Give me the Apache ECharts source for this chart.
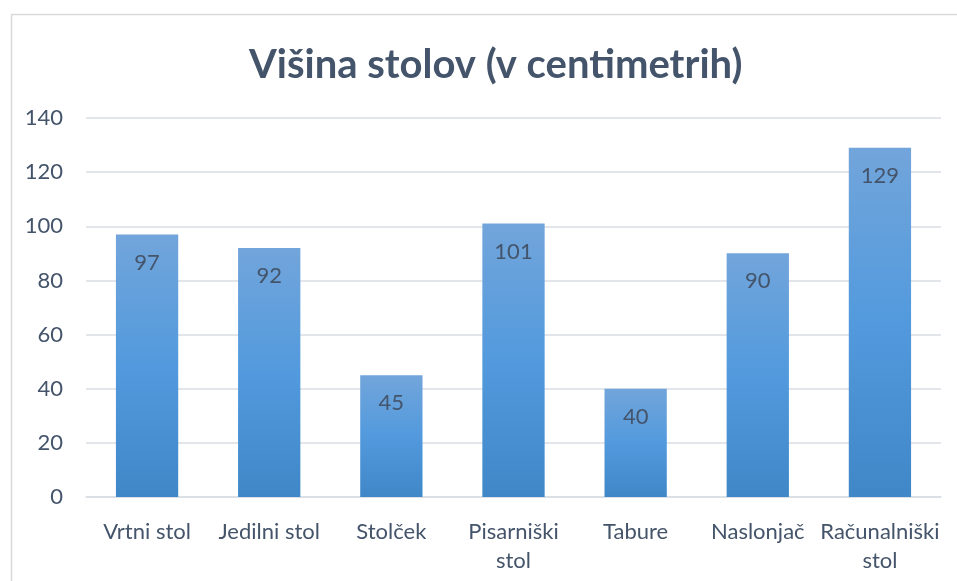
<!DOCTYPE html>
<html>
<head>
<meta charset="utf-8">
<script src="https://cdn.jsdelivr.net/npm/echarts@6/dist/echarts.min.js"></script>
<style>
  html, body { margin: 0; padding: 0; background: #fff; }
  #chart { width: 957px; height: 581px; }
</style>
</head>
<body>
<div id="chart"></div>
<script>
// podatki
const categories = ['Vrtni stol', 'Jedilni stol', 'Stolček', 'Pisarniški stol', 'Tabure', 'Naslonjač', 'Računalniški stol']
const heights = [97, 92, 45, 101, 40, 90, 129]
const yTicks = [0, 20, 40, 60, 80, 100, 120, 140]

const textColor = '#44546A'
const gridColor = '#D9DEE5'

let chart = echarts.init(document.getElementById('chart'))

let barColor = new echarts.graphic.LinearGradient(0, 0, 0, 1, [
  { offset: 0, color: '#72A5DB' },
  { offset: 0.5, color: '#529ADD' },
  { offset: 1, color: '#3F87C7' }
])

let option = {
  animation: false,
  textStyle: { fontFamily: 'Lato, "Open Sans", sans-serif' },
  graphic: [{
    type: 'rect',
    left: 9,
    top: 12,
    shape: { width: 960, height: 580 },
    style: { fill: 'none', stroke: '#D9D9D9', lineWidth: 1.5 },
    silent: true
  }],
  title: {
    text: 'Višina stolov (v centimetrih)',
    left: 244,
    top: 40,
    textStyle: {
      color: textColor,
      fontSize: 40,
      fontWeight: 'bold',
      fontFamily: 'Lato, "Open Sans", sans-serif'
    }
  },
  grid: {
    left: 86,
    right: 16,
    top: 118,
    bottom: 84,
    containLabel: false
  },
  xAxis: {
    type: 'category',
    data: categories,
    axisLine: { show: true, lineStyle: { color: gridColor, width: 1.5 } },
    axisTick: { show: false },
    axisLabel: {
      color: textColor,
      fontSize: 22,
      margin: 20,
      lineHeight: 29,
      interval: 0,
      formatter: function (v) {
        if (v.length > 12) {
          let i = v.lastIndexOf(' ')
          return v.slice(0, i) + '\n' + v.slice(i + 1)
        }
        return v
      }
    }
  },
  yAxis: {
    type: 'value',
    min: yTicks[0],
    max: yTicks[yTicks.length - 1],
    interval: 20,
    axisLine: { show: false },
    axisTick: { show: false },
    axisLabel: { color: textColor, fontSize: 22, margin: 23 },
    splitLine: { lineStyle: { color: gridColor, width: 1.5 } }
  },
  series: [{
    type: 'bar',
    data: heights,
    barCategoryGap: '49%',
    itemStyle: { color: barColor },
    label: {
      show: true,
      position: 'insideTop',
      distance: 17,
      color: textColor,
      fontSize: 22
    }
  }]
}

chart.setOption(option)
</script>
</body>
</html>
